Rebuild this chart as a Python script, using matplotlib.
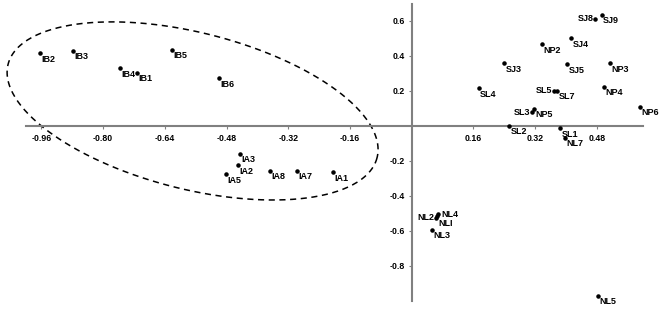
import numpy as np
import matplotlib
matplotlib.use("Agg")
import matplotlib.pyplot as plt

plt.rcParams['font.family'] = ['Liberation Sans', 'DejaVu Sans']

# sample labels and their coordinates
names = ["IB2", "IB3", "IB4", "IB1", "IB5", "IB6",
         "IA3", "IA2", "IA5", "IA8", "IA7", "IA1",
         "SJ8", "SJ9", "SJ4", "NP2", "SJ3", "SJ5", "NP3",
         "SL4", "SL5", "SL7", "NP4", "NP6", "SL3", "NP5",
         "SL2", "SL1", "NL7",
         "NL2", "NL4", "NLI", "NL3", "NL5"]
xs = [-0.964, -0.878, -0.755, -0.712, -0.622, -0.500,
      -0.445, -0.451, -0.482, -0.367, -0.298, -0.203,
      0.475, 0.493, 0.414, 0.337, 0.240, 0.404, 0.514,
      0.174, 0.369, 0.378, 0.498, 0.592, 0.311, 0.318,
      0.253, 0.386, 0.398,
      0.063, 0.069, 0.066, 0.053, 0.484]
ys = [0.414, 0.429, 0.328, 0.303, 0.433, 0.271,
      -0.162, -0.226, -0.278, -0.257, -0.257, -0.265,
      0.610, 0.633, 0.499, 0.465, 0.356, 0.351, 0.356,
      0.214, 0.200, 0.200, 0.223, 0.109, 0.077, 0.095,
      0.000, -0.015, -0.069,
      -0.526, -0.506, -0.515, -0.596, -0.971]
# labels written on the left side of their dot / straight to the right
left_side = ["SJ8", "SL5", "SL3", "NL2"]
right_side = ["NL4"]

xticks = [-0.96, -0.80, -0.64, -0.48, -0.32, -0.16, 0.16, 0.32, 0.48]
yticks = [0.6, 0.4, 0.2, -0.2, -0.4, -0.6, -0.8]

fig = plt.figure(figsize=(6.65, 3.09), dpi=100)
ax = fig.add_axes([0.0391, 0.0269, 0.9278, 0.9602])

ax.scatter(xs, ys, s=5, color="black", zorder=3)
for n, x, y in zip(names, xs, ys):
    if n in left_side:
        ax.annotate(n, (x, y), xytext=(-1, 0), textcoords="offset points",
                    ha="right", va="center", fontsize=6.5, fontweight="bold")
    elif n in right_side:
        ax.annotate(n, (x, y), xytext=(2, -0.5), textcoords="offset points",
                    ha="left", va="center", fontsize=6.5, fontweight="bold")
    elif n == "NLI":
        ax.annotate(n, (x, y), xytext=(1, -5.8), textcoords="offset points",
                    ha="left", va="center", fontsize=6.5, fontweight="bold")
    else:
        ax.annotate(n, (x, y), xytext=(1, -4.3), textcoords="offset points",
                    ha="left", va="center", fontsize=6.5, fontweight="bold")

# dashed ellipse round the I group (drawn in pixel-like units, then scaled)
sx, sy = 385.6, 175.0
cx, cy = -0.568, 0.084
a, b, th = 190.3, 78.2, np.radians(14.2)
t = np.linspace(0, 2 * np.pi, 400)
ex = cx + (a * np.cos(t) * np.cos(th) - b * np.sin(t) * np.sin(th)) / sx
ey = cy - (a * np.cos(t) * np.sin(th) + b * np.sin(t) * np.cos(th)) / sy
ax.plot(ex, ey, color="black", lw=1.1, linestyle=(0, (4, 3)), clip_on=False)

ax.set_xlim(-1.0, 0.6)
ax.set_ylim(-1.0, 0.695)
ax.spines["left"].set_position("zero")
ax.spines["bottom"].set_position("zero")
ax.spines["top"].set_visible(False)
ax.spines["right"].set_visible(False)
for s in ["left", "bottom"]:
    ax.spines[s].set_color("#808080")
    ax.spines[s].set_linewidth(1.5)

ax.set_xticks(xticks)
ax.set_xticklabels(["%.2f" % v for v in xticks], fontsize=6.3, fontweight="bold")
ax.set_yticks(yticks)
ax.set_yticklabels(["%.1f" % v for v in yticks], fontsize=6.3, fontweight="bold")
ax.tick_params(axis="both", length=2.5, width=0.8, color="#808080")
ax.tick_params(axis="x", pad=3.5)
ax.tick_params(axis="y", pad=2.5)

fig.savefig("out.png", dpi=100)
